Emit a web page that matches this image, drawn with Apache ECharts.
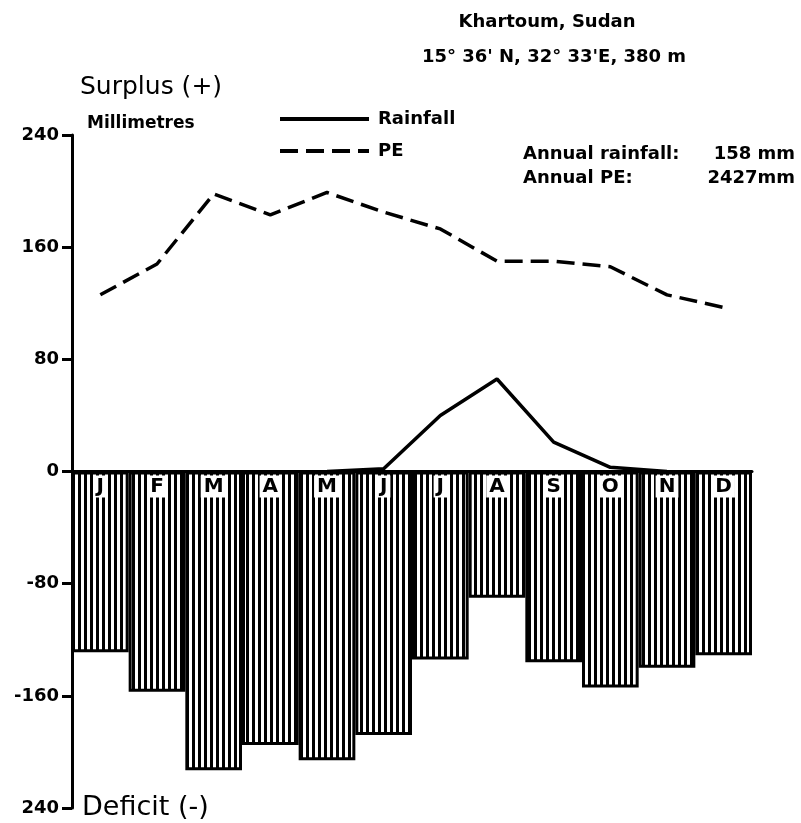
<!DOCTYPE html>
<html>
<head>
<meta charset="utf-8">
<script src="https://cdn.jsdelivr.net/npm/echarts@6/dist/echarts.min.js"></script>
<style>
  html, body { margin: 0; padding: 0; background: #fff; }
  #chart { width: 801px; height: 823px; }
</style>
</head>
<body>
<div id="chart"></div>
<script>
const months = ['J', 'F', 'M', 'A', 'M', 'J', 'J', 'A', 'S', 'O', 'N', 'D'];
// water balance (rainfall - PE), mm
const deficit = [-129, -157, -213, -195, -206, -188, -134, -90, -136, -154, -140, -131];
const pe = [126, 148, 198, 183, 199, 185, 173, 150, 150, 146, 126, 117];
const rainfall = [null, null, null, null, 0, 2, 40, 66, 21, 3, 0, null];
const yTicks = [-240, -160, -80, 0, 80, 160, 240];

const font = 'DejaVu Sans';

// vertical hatching for the deficit bars
function hatch() {
    const c = document.createElement('canvas');
    c.width = 6;
    c.height = 6;
    const ctx = c.getContext('2d');
    ctx.fillStyle = '#fff';
    ctx.fillRect(0, 0, 6, 6);
    ctx.fillStyle = '#000';
    ctx.fillRect(0, 0, 3, 6);
    return c;
}

function txt(x, y, text, size, weight, align) {
    return {
        type: 'text',
        x: x,
        y: y,
        z: 20,
        style: {
            text: text,
            font: (weight || 'bold') + ' ' + size + 'px "' + font + '"',
            fill: '#000',
            align: align || 'left',
            verticalAlign: 'middle',
        },
    };
}

const chart = echarts.init(document.getElementById('chart'));
chart.setOption({
    animation: false,
    backgroundColor: '#fff',
    grid: { left: 72, right: 49, top: 135, bottom: 15, outerBoundsMode: 'none' },
    legend: {
        data: ['Rainfall', 'PE'],
        orient: 'vertical',
        left: 278,
        top: 110,
        padding: 0,
        itemWidth: 89,
        itemHeight: 18,
        itemGap: 14,
        itemStyle: { opacity: 0 },
        lineStyle: { width: 4 },
        textStyle: {
            fontFamily: font,
            fontWeight: 'bold',
            fontSize: 18,
            lineHeight: 18,
            color: '#000',
            padding: [0, 0, 0, 4],
        },
    },
    xAxis: {
        type: 'category',
        data: months,
        z: 10,
        axisLine: { onZero: true, lineStyle: { color: '#000', width: 3 } },
        axisTick: { show: false },
        axisLabel: { show: false },
    },
    yAxis: {
        type: 'value',
        min: yTicks[0],
        max: yTicks[yTicks.length - 1],
        interval: 80,
        splitLine: { show: false },
        axisLine: { show: true, lineStyle: { color: '#000', width: 3 } },
        axisTick: { show: true, length: 10, lineStyle: { color: '#000', width: 3 } },
        axisLabel: {
            color: '#000',
            fontFamily: font,
            fontWeight: 'bold',
            fontSize: 18,
            margin: 13,
            formatter(v) {
                return v === -240 ? '240' : String(v);
            },
        },
    },
    graphic: [
        txt(547, 22, 'Khartoum, Sudan', 18, 'bold', 'center'),
        txt(554, 57, '15° 36\' N, 32° 33\'E, 380 m', 18, 'bold', 'center'),
        txt(80, 87, 'Surplus (+)', 25, 'normal'),
        txt(87, 124, 'Millimetres', 17),
        txt(523, 154, 'Annual rainfall:', 18),
        txt(795, 154, '158 mm', 18, 'bold', 'right'),
        txt(523, 178, 'Annual PE:', 18),
        txt(795, 178, '2427mm', 18, 'bold', 'right'),
        txt(82, 808, 'Deficit (-)', 27, 'normal'),
    ],
    series: [
        {
            name: 'Deficit',
            type: 'bar',
            data: deficit,
            barCategoryGap: 0,
            itemStyle: {
                color: { image: hatch(), repeat: 'repeat' },
                borderColor: '#000',
                borderWidth: 3,
            },
            label: {
                show: true,
                position: 'insideTop',
                distance: 4,
                formatter: '{b}',
                color: '#000',
                fontFamily: font,
                fontWeight: 'bold',
                fontSize: 20,
                lineHeight: 20,
                backgroundColor: '#fff',
                padding: [1, 3],
            },
        },
        {
            name: 'Rainfall',
            type: 'line',
            data: rainfall,
            symbol: 'none',
            z: 5,
            lineStyle: { color: '#000', width: 3.5, type: 'solid' },
            itemStyle: { color: '#000' },
        },
        {
            name: 'PE',
            type: 'line',
            data: pe,
            symbol: 'none',
            z: 5,
            lineStyle: { color: '#000', width: 3.5, type: [18, 8] },
            itemStyle: { color: '#000' },
        },
    ],
});
</script>
</body>
</html>
